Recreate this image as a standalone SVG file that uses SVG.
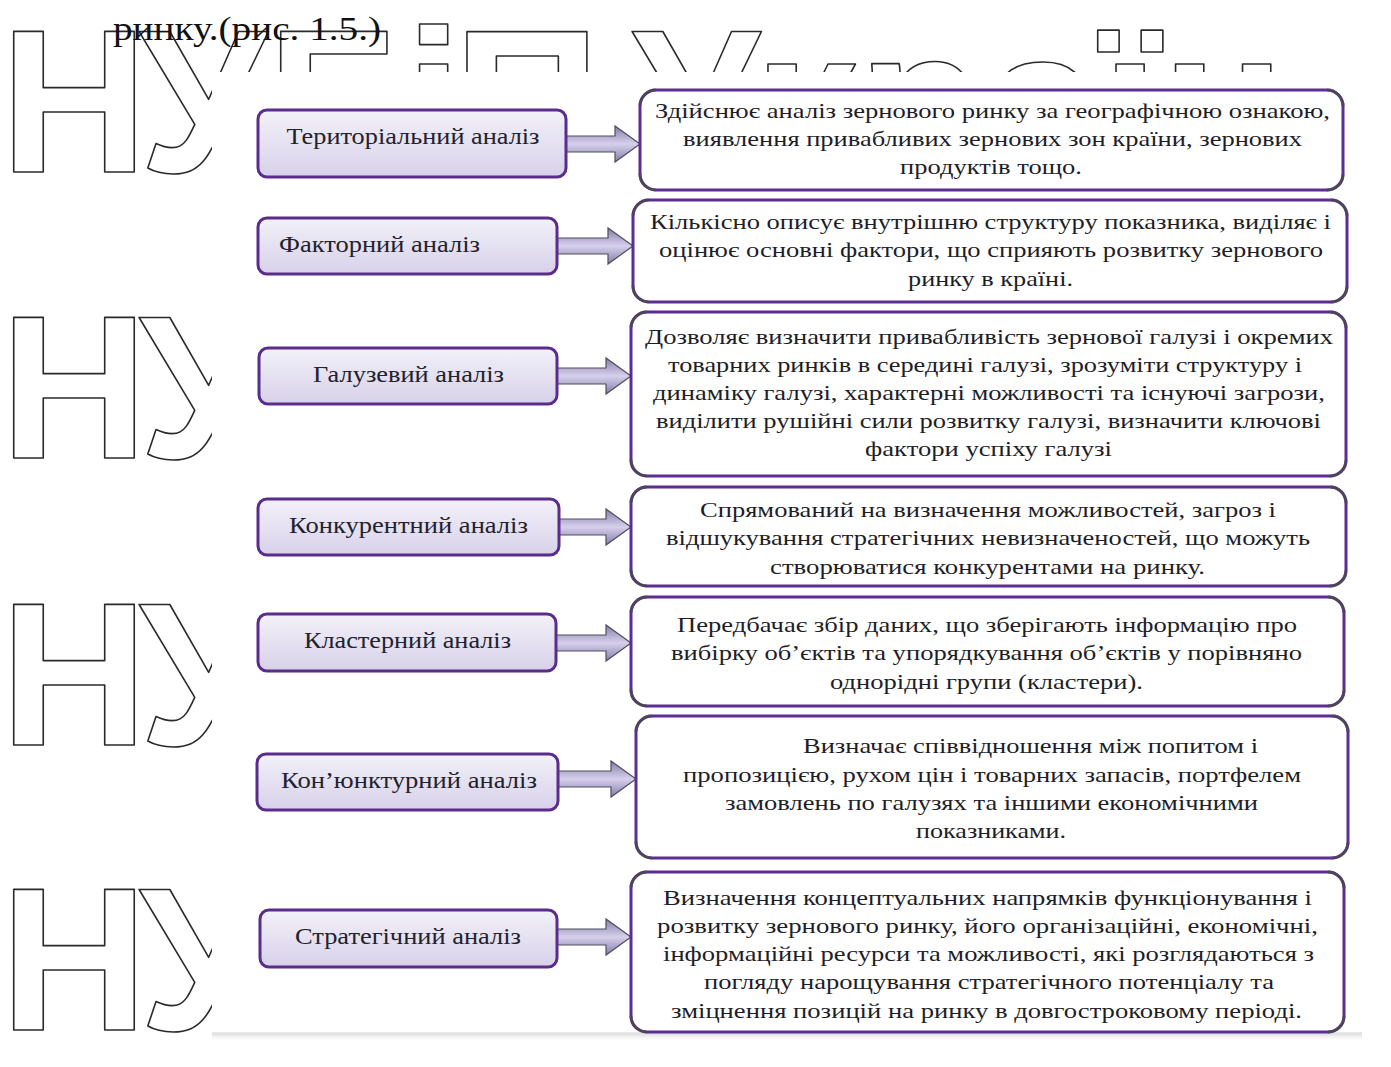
<svg xmlns="http://www.w3.org/2000/svg" width="1391" height="1067" viewBox="0 0 1391 1067">
<defs>
<linearGradient id="lboxFill" x1="0" y1="0" x2="0" y2="1">
<stop offset="0" stop-color="#f3f1f9"/>
<stop offset="1" stop-color="#d7d1e9"/>
</linearGradient>
<linearGradient id="arrowFill" x1="0" y1="0" x2="0" y2="1">
<stop offset="0" stop-color="#857da8"/>
<stop offset="0.5" stop-color="#d6d0ec"/>
<stop offset="1" stop-color="#857da8"/>
</linearGradient>
<linearGradient id="shadowFill" x1="0" y1="0" x2="0" y2="1">
<stop offset="0" stop-color="#ffffff" stop-opacity="0"/>
<stop offset="0.6" stop-color="#d8d8d8" stop-opacity="0.8"/>
<stop offset="1" stop-color="#ffffff" stop-opacity="0"/>
</linearGradient>
</defs>
<style>
.wm{font-family:"Liberation Sans",Arial,sans-serif;font-weight:bold;font-size:205px;letter-spacing:-9px;fill:none;stroke:#2a2a2a;stroke-width:1.6;stroke-linejoin:round}
.cap{font-family:"Liberation Serif","Times New Roman",serif;font-size:33px;fill:#111}
.lbox{fill:url(#lboxFill);stroke:#5a2d8c;stroke-width:3}
.rbox{fill:#ffffff;stroke:#5c2d93;stroke-width:3}
.rcorner{fill:none;stroke:#4a4a4a;stroke-width:3;stroke-opacity:0.75}
.lt{font-family:"Liberation Serif","Times New Roman",serif;font-size:23px;fill:#22222c;text-anchor:middle}
.rt{font-family:"Liberation Serif","Times New Roman",serif;font-size:22px;fill:#1e1e28;text-anchor:middle}
.arr{fill:url(#arrowFill);stroke:#4e4e5e;stroke-width:1.2;stroke-linejoin:miter}
</style>
<rect x="0" y="0" width="1391" height="1067" fill="#ffffff"/>
<g id="watermark">
<text class="wm" x="0" y="172">НУ</text>
<text class="wm" x="267" y="172">БіП</text>
<text class="wm" x="632" y="172" style="letter-spacing:2px">Україн</text>
<text class="wm" x="0" y="458">НУ</text>
<text class="wm" x="0" y="745">НУ</text>
<text class="wm" x="0" y="1030">НУ</text>
</g>
<text class="cap" x="113" y="40" textLength="268" lengthAdjust="spacingAndGlyphs">ринку.(рис. 1.5.)</text>
<g id="panel">
<rect x="212" y="1022" width="1150" height="20" fill="url(#shadowFill)"/>
<rect x="212" y="72" width="1150" height="960" fill="#ffffff"/>
</g>
<g id="connectors">
<path class="arr" d="M566,136 H615 V126 L640,144 L615,162 V152 H566 Z"/>
<path class="arr" d="M557,238 H608 V228 L633,246 L608,264 V254 H557 Z"/>
<path class="arr" d="M557,368 H606 V358 L631,376 L606,394 V384 H557 Z"/>
<path class="arr" d="M559,519 H606 V509 L631,527 L606,545 V535 H559 Z"/>
<path class="arr" d="M556,635 H606 V625 L631,643 L606,661 V651 H556 Z"/>
<path class="arr" d="M558,771 H611 V761 L636,779 L611,797 V787 H558 Z"/>
<path class="arr" d="M557,929 H606 V919 L631,937 L606,955 V945 H557 Z"/>
</g>
<g id="n1">
<rect class="lbox" x="258" y="110" width="308" height="67" rx="9"/>
<text class="lt" x="413" y="144" textLength="253" lengthAdjust="spacingAndGlyphs">Територіальний аналіз</text>
</g>
<g id="n2">
<rect class="lbox" x="258" y="218" width="299" height="56" rx="9"/>
<text class="lt" x="379.5" y="252" textLength="201" lengthAdjust="spacingAndGlyphs">Факторний аналіз</text>
</g>
<g id="n3">
<rect class="lbox" x="259" y="348" width="298" height="56" rx="9"/>
<text class="lt" x="408.5" y="382" textLength="191" lengthAdjust="spacingAndGlyphs">Галузевий аналіз</text>
</g>
<g id="n4">
<rect class="lbox" x="258" y="499" width="301" height="56" rx="9"/>
<text class="lt" x="408.5" y="533" textLength="239" lengthAdjust="spacingAndGlyphs">Конкурентний аналіз</text>
</g>
<g id="n5">
<rect class="lbox" x="258" y="614" width="298" height="57" rx="9"/>
<text class="lt" x="407.5" y="648" textLength="207" lengthAdjust="spacingAndGlyphs">Кластерний аналіз</text>
</g>
<g id="n6">
<rect class="lbox" x="257" y="754" width="301" height="56" rx="9"/>
<text class="lt" x="409" y="788" textLength="256" lengthAdjust="spacingAndGlyphs">Кон’юнктурний аналіз</text>
</g>
<g id="n7">
<rect class="lbox" x="260" y="910" width="297" height="57" rx="9"/>
<text class="lt" x="408" y="944" textLength="226" lengthAdjust="spacingAndGlyphs">Стратегічний аналіз</text>
</g>
<g id="d1">
<rect class="rbox" x="640" y="90" width="703" height="100" rx="16"/>
<rect class="rcorner" x="640" y="90" width="703" height="100" rx="16" stroke-dasharray="0 671 25.13 68 25.13 671 25.13 68 25.13 0"/>
<text class="rt" x="992.5" y="118" textLength="675" lengthAdjust="spacingAndGlyphs">Здійснює аналіз зернового ринку за географічною ознакою,</text>
<text class="rt" x="992.5" y="146" textLength="619" lengthAdjust="spacingAndGlyphs">виявлення привабливих зернових зон країни, зернових</text>
<text class="rt" x="991" y="174" textLength="182" lengthAdjust="spacingAndGlyphs">продуктів тощо.</text>
</g>
<g id="d2">
<rect class="rbox" x="633" y="200" width="714" height="102" rx="16"/>
<rect class="rcorner" x="633" y="200" width="714" height="102" rx="16" stroke-dasharray="0 682 25.13 70 25.13 682 25.13 70 25.13 0"/>
<text class="rt" x="990.5" y="229" textLength="681" lengthAdjust="spacingAndGlyphs">Кількісно описує внутрішню структуру показника, виділяє і</text>
<text class="rt" x="991" y="257" textLength="664" lengthAdjust="spacingAndGlyphs">оцінює основні фактори, що сприяють розвитку зернового</text>
<text class="rt" x="990.5" y="286" textLength="165" lengthAdjust="spacingAndGlyphs">ринку в країні.</text>
</g>
<g id="d3">
<rect class="rbox" x="631" y="312" width="715" height="164" rx="16"/>
<rect class="rcorner" x="631" y="312" width="715" height="164" rx="16" stroke-dasharray="0 683 25.13 132 25.13 683 25.13 132 25.13 0"/>
<text class="rt" x="989" y="344" textLength="688" lengthAdjust="spacingAndGlyphs">Дозволяє визначити привабливість зернової галузі і окремих</text>
<text class="rt" x="985" y="372" textLength="634" lengthAdjust="spacingAndGlyphs">товарних ринків в середині галузі, зрозуміти структуру і</text>
<text class="rt" x="989" y="400" textLength="672" lengthAdjust="spacingAndGlyphs">динаміку галузі, характерні можливості та існуючі загрози,</text>
<text class="rt" x="988.5" y="428" textLength="665" lengthAdjust="spacingAndGlyphs">виділити рушійні сили розвитку галузі, визначити ключові</text>
<text class="rt" x="988.5" y="456" textLength="247" lengthAdjust="spacingAndGlyphs">фактори успіху галузі</text>
</g>
<g id="d4">
<rect class="rbox" x="631" y="487" width="715" height="99" rx="16"/>
<rect class="rcorner" x="631" y="487" width="715" height="99" rx="16" stroke-dasharray="0 683 25.13 67 25.13 683 25.13 67 25.13 0"/>
<text class="rt" x="988" y="517" textLength="576" lengthAdjust="spacingAndGlyphs">Спрямований на визначення можливостей, загроз і</text>
<text class="rt" x="988" y="545" textLength="644" lengthAdjust="spacingAndGlyphs">відшукування стратегічних невизначеностей, що можуть</text>
<text class="rt" x="987.5" y="574" textLength="435" lengthAdjust="spacingAndGlyphs">створюватися конкурентами на ринку.</text>
</g>
<g id="d5">
<rect class="rbox" x="631" y="597" width="713" height="109" rx="16"/>
<rect class="rcorner" x="631" y="597" width="713" height="109" rx="16" stroke-dasharray="0 681 25.13 77 25.13 681 25.13 77 25.13 0"/>
<text class="rt" x="987" y="632" textLength="620" lengthAdjust="spacingAndGlyphs">Передбачає збір даних, що зберігають інформацію про</text>
<text class="rt" x="986.5" y="660" textLength="631" lengthAdjust="spacingAndGlyphs">вибірку об’єктів та упорядкування об’єктів у порівняно</text>
<text class="rt" x="986.5" y="689" textLength="313" lengthAdjust="spacingAndGlyphs">однорідні групи (кластери).</text>
</g>
<g id="d6">
<rect class="rbox" x="636" y="716" width="712" height="142" rx="16"/>
<rect class="rcorner" x="636" y="716" width="712" height="142" rx="16" stroke-dasharray="0 680 25.13 110 25.13 680 25.13 110 25.13 0"/>
<text class="rt" x="1030.5" y="753" textLength="455" lengthAdjust="spacingAndGlyphs">Визначає співвідношення між попитом і</text>
<text class="rt" x="992" y="782" textLength="618" lengthAdjust="spacingAndGlyphs">пропозицією, рухом цін і товарних запасів, портфелем</text>
<text class="rt" x="991.5" y="810" textLength="533" lengthAdjust="spacingAndGlyphs">замовлень по галузях та іншими економічними</text>
<text class="rt" x="991" y="838" textLength="150" lengthAdjust="spacingAndGlyphs">показниками.</text>
</g>
<g id="d7">
<rect class="rbox" x="631" y="872" width="713" height="160" rx="16"/>
<rect class="rcorner" x="631" y="872" width="713" height="160" rx="16" stroke-dasharray="0 681 25.13 128 25.13 681 25.13 128 25.13 0"/>
<text class="rt" x="987.5" y="905" textLength="649" lengthAdjust="spacingAndGlyphs">Визначення концептуальних напрямків функціонування і</text>
<text class="rt" x="987.5" y="933" textLength="661" lengthAdjust="spacingAndGlyphs">розвитку зернового ринку, його організаційні, економічні,</text>
<text class="rt" x="988.5" y="961" textLength="651" lengthAdjust="spacingAndGlyphs">інформаційні ресурси та можливості, які розглядаються з</text>
<text class="rt" x="989" y="989" textLength="570" lengthAdjust="spacingAndGlyphs">погляду нарощування стратегічного потенціалу та</text>
<text class="rt" x="986.5" y="1018" textLength="631" lengthAdjust="spacingAndGlyphs">зміцнення позицій на ринку в довгостроковому періоді.</text>
</g>
</svg>
